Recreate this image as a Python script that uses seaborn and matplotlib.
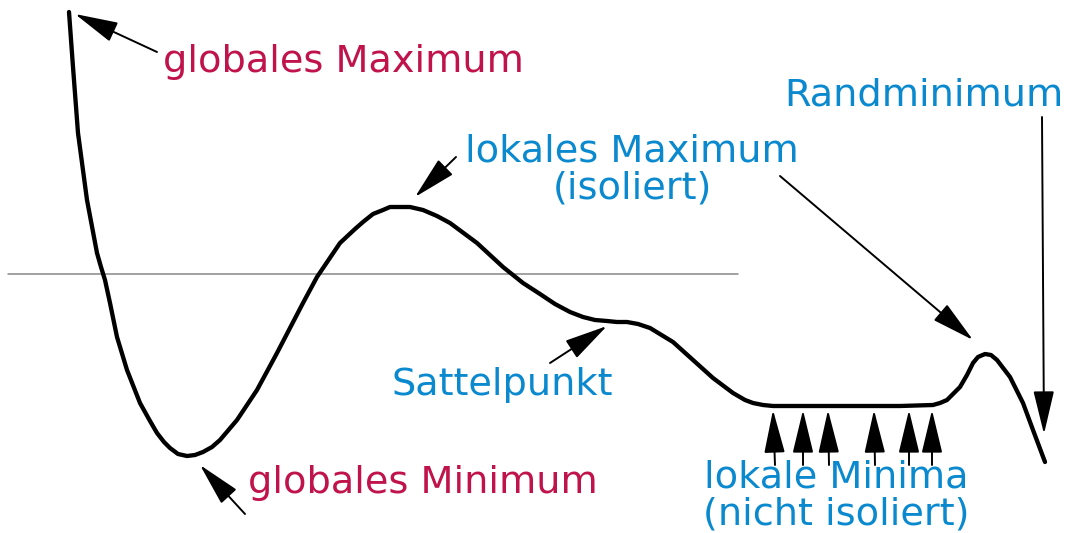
import matplotlib
matplotlib.use("Agg")
import matplotlib.pyplot as plt
import seaborn as sns

# curve (pixel coordinates, y downwards)
curve_x = [69, 73, 78, 87, 97, 101, 105, 110, 117, 127, 140, 150, 157, 164, 170,
           178, 187, 195, 203, 212, 220, 237, 257, 277, 290, 303, 317, 340, 355,
           363, 373, 383, 390, 400, 410, 423, 437, 450, 477, 503, 523, 540, 555,
           570, 583, 595, 607, 617, 627, 638, 650, 673, 693, 713, 733, 745, 753, 763,
           773, 800, 900, 933, 940, 947, 953, 960, 967, 973, 978, 985, 991, 997,
           1010, 1023, 1033, 1045]
curve_y = [12, 67, 133, 200, 253, 267, 280, 303, 337, 370, 403, 421, 433, 442, 448,
           454, 456, 455, 452, 447, 440, 420, 390, 353, 328, 303, 277, 243, 229,
           222, 214, 210, 207, 207, 207, 210, 216, 223, 243, 267, 283, 294, 304,
           312, 317, 320, 321, 322, 322, 324, 328, 342, 360, 378, 393, 400, 403, 405,
           406, 406, 406, 405, 403, 400, 394, 387, 375, 363, 357, 354, 355, 360,
           377, 403, 430, 462]

red = "#c0134b"
blue = "#0a89cf"

# labels: text, x, y, colour
labels = ["globales Maximum", "lokales Maximum\n(isoliert)", "Sattelpunkt",
          "globales Minimum", "Randminimum", "lokale Minima\n(nicht isoliert)"]
label_x = [343, 632, 502, 423, 924, 836]
label_y = [62, 170, 385, 483, 95, 496]
label_col = [red, blue, blue, red, blue, blue]

# arrows: tail -> head
arrow_tail = [(157, 52), (456, 157), (550, 363), (245, 514), (1042, 117), (780, 176),
              (775, 465), (803, 465), (829, 465), (875, 465), (909, 465), (932, 465)]
arrow_head = [(75, 14), (415, 197), (607, 326), (200, 465), (1044, 434), (973, 340),
              (773, 410), (803, 410), (828, 410), (874, 410), (909, 410), (932, 410)]

sns.set_style("white")
plt.rcParams['font.family'] = ['DejaVu Sans']

fig = plt.figure(figsize=(10.66, 5.33), dpi=100)
ax = fig.add_axes([0, 0, 1, 1])

ax.plot([8, 738], [274, 274], color="#888888", lw=1.1)
sns.lineplot(x=curve_x, y=curve_y, sort=False, color="black", lw=3.1, ax=ax)
ax.lines[-1].set_solid_joinstyle("round")

for t, h in zip(arrow_tail, arrow_head):
    ax.annotate("", xy=h, xytext=t,
                arrowprops=dict(arrowstyle="-|>,head_length=1.5,head_width=0.36",
                                color="black", lw=1.4, mutation_scale=18,
                                shrinkA=0, shrinkB=0))

for txt, x, y, c in zip(labels, label_x, label_y, label_col):
    ax.text(x, y, txt, color=c, fontsize=27.5, ha="center", va="center",
            linespacing=1.0)

ax.set_xlim(0, 1066)
ax.set_ylim(533, 0)
ax.axis("off")
fig.savefig("out.png", dpi=100)
